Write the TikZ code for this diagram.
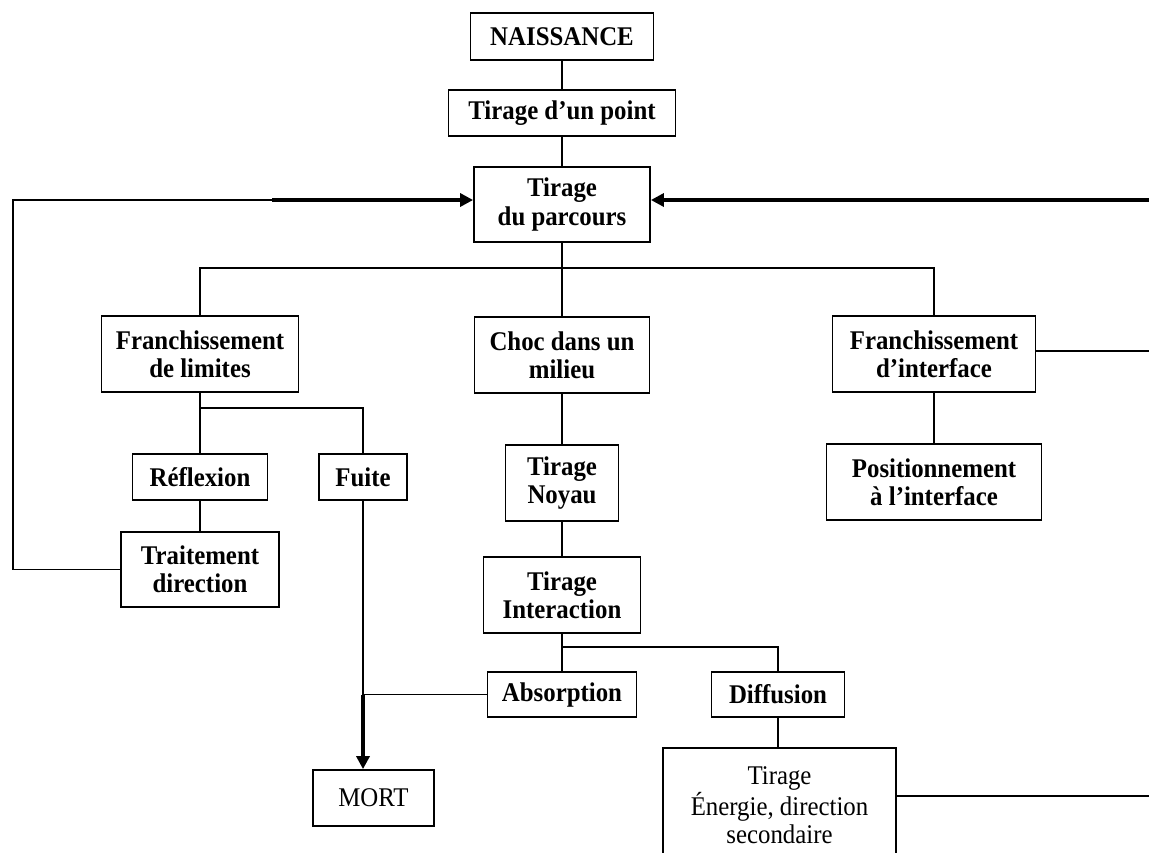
\documentclass[tikz,border=0pt]{standalone}
\usepackage{fontspec}
\setmainfont[FakeStretch=0.92]{Liberation Serif}
\usetikzlibrary{arrows.meta,calc}
\tikzset{
  box/.style={draw, line width=0.9pt, inner sep=0pt, align=center,
    font=\fontsize{13.5}{14.2}\selectfont\bfseries},
  plainbox/.style={box, font=\fontsize{13.5}{14.2}\selectfont},
  link/.style={line width=0.9pt},
  flow/.style={line width=1.6pt, -{Triangle[length=6.5pt,width=6.5pt]}},
  thickline/.style={line width=1.6pt},
}
\begin{document}
\begin{tikzpicture}[x=0.5pt,y=-0.5pt]
\clip (0,0) rectangle (1149,852);
\fill[white] (0,0) rectangle (1149,852);

\node[box, minimum width=91.5pt, minimum height=23.5pt] (nais) at (562,36.5) {NAISSANCE};
\node[box, minimum width=113.5pt, minimum height=23pt] (point) at (562,113) {Tirage d’un point};
\node[box, minimum width=88pt, minimum height=37.5pt] (parc) at (562,204.5) {Tirage\\du parcours};

\node[box, minimum width=98.5pt, minimum height=38pt] (lim) at (200,354) {Franchissement\\de limites};
\node[box, minimum width=87.5pt, minimum height=38pt] (choc) at (562,355) {Choc dans un\\milieu};
\node[box, minimum width=101.5pt, minimum height=38pt] (inter) at (934,354) {Franchissement\\d’interface};
\node[box, minimum width=107.5pt, minimum height=38pt] (posi) at (934,482) {Positionnement\\à l’interface};

\node[box, minimum width=67.5pt, minimum height=23pt] (refl) at (200,477) {Réflexion};
\node[box, minimum width=44pt, minimum height=23pt] (fuite) at (363,477) {Fuite};
\node[box, minimum width=79pt, minimum height=37.5pt] (trait) at (200,569.5) {Traitement\\direction};

\node[box, minimum width=56.5pt, minimum height=38pt] (noyau) at (562,483) {Tirage\\Noyau};
\node[box, minimum width=78.5pt, minimum height=38pt] (interac) at (562,595) {Tirage\\Interaction};
\node[box, minimum width=74.5pt, minimum height=22.5pt] (absor) at (562,694.5) {Absorption};
\node[box, minimum width=66.5pt, minimum height=22.5pt] (diff) at (778,694.5) {Diffusion};
\node[plainbox, minimum width=60.5pt, minimum height=28pt] (mort) at (373.5,798) {MORT};
\node[plainbox, minimum width=116.5pt, minimum height=57pt] (ener) at (779.5,805) {Tirage\\Énergie, direction\\secondaire};

% coordinates for free ends
\coordinate (loopL) at (13,200);
\coordinate (loopM) at (272,200);
\coordinate (rin) at (1149,200);
\coordinate (rout1) at (1149,351);
\coordinate (rout2) at (1149,796);

% main column
\draw[link] (nais) -- (point);
\draw[link] (point) -- (parc);
\draw[link] (parc) -- (choc);
\draw[link] (lim.north) -- ++(0,-47) -| (inter.north);
\draw[link] (choc) -- (noyau);
\draw[link] (noyau) -- (interac);
\draw[link] (interac) -- (absor);
\draw[link] (absor.north) ++(0,-24) -| (diff.north);
\draw[link] (diff) -- (ener.north -| diff.south);

% returns to Tirage du parcours
\draw[link] (trait.west) -| (loopL) -- (loopM);
\draw[flow] (loopM) -- (loopM -| parc.west);
\draw[flow] (rin) -- (rin -| parc.east);
\draw[link] (rout1 -| inter.east) -- (rout1);
\draw[link] (rout2 -| ener.east) -- (rout2);

% interface branch
\draw[link] (inter) -- (posi);

% limits branch
\draw[link] (lim) -- (refl);
\draw[link] (refl.north) ++(0,-45) -| (fuite.north);
\draw[link] (refl) -- (trait);

% death
\coordinate (j) at (fuite.south |- absor.west);
\draw[link] (fuite.south) -- (j);
\draw[link] (absor.west) -- (j);
\draw[flow] (j) -- (j |- mort.north);
\end{tikzpicture}
\end{document}
